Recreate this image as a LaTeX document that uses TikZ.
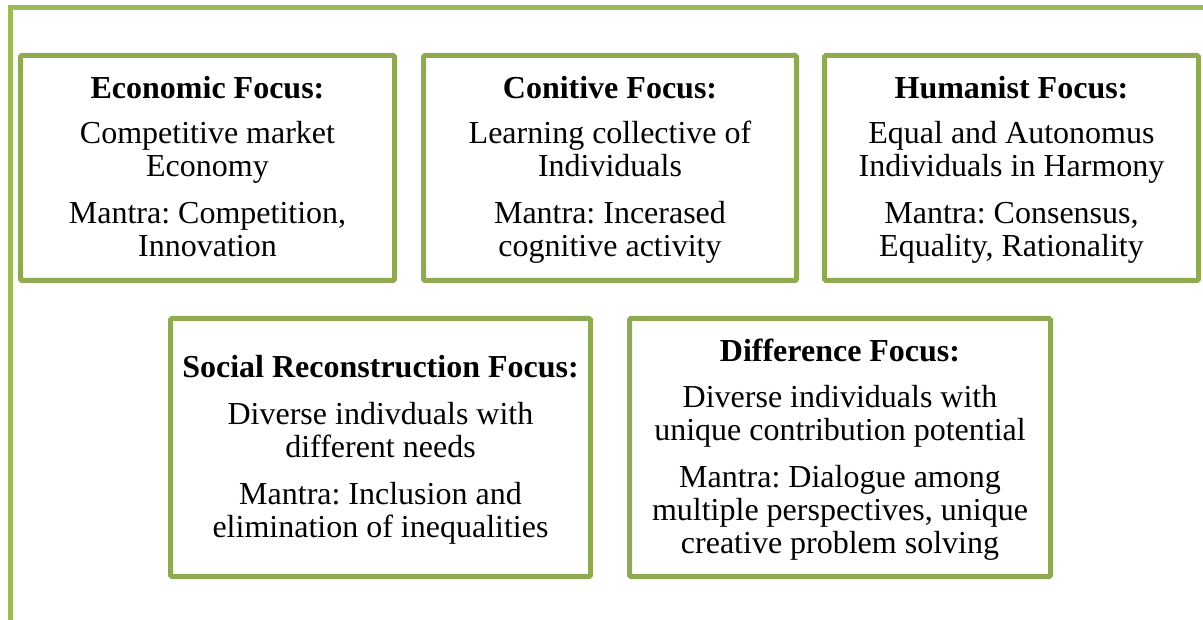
\documentclass[tikz,border=0pt]{standalone}
\usepackage{fontspec}
\setmainfont{Liberation Serif}
\frenchspacing
\definecolor{framegreen}{HTML}{9BBB59}
\definecolor{boxgreen}{HTML}{8FAA53}
\newcommand{\topstrut}{\rule{0pt}{29.5pt}}
\begin{document}
\begin{tikzpicture}[x=1pt,y=-1pt,
  box/.style={draw=boxgreen, line width=5pt, fill=white, rounded corners=1.5pt,
    align=center, inner sep=0pt, font=\fontsize{32}{33}\selectfont},
  frameline/.style={draw=framegreen, line width=5pt}]
\useasboundingbox (0,0) rectangle (1203,620);
\clip (0,0) rectangle (1203,620);
\draw[frameline] (1210,7.5) -- (10.5,7.5) -- (10.5,630);
\node[box, minimum width=374pt, minimum height=225pt] (b1) at (207.5,168)
  {\topstrut\textbf{Economic Focus:}\\[12pt] Competitive market\\ Economy\\[14pt] Mantra: Competition,\\ Innovation\strut};
\node[box, minimum width=373pt, minimum height=225pt] (b2) at (610,168)
  {\topstrut\textbf{Conitive Focus:}\\[12pt] Learning collective of\\ Individuals\\[14pt] Mantra: Incerased\\ cognitive activity\strut};
\node[box, minimum width=374pt, minimum height=225pt] (b3) at (1011.5,168)
  {\topstrut\textbf{Humanist Focus:}\\[12pt] Equal and Autonomus\\ Individuals in Harmony\\[14pt] Mantra: Consensus,\\ Equality, Rationality\strut};
\node[box, minimum width=420pt, minimum height=258pt] (b4) at (380.5,447.5)
  {\topstrut\textbf{Social Reconstruction Focus:}\\[14pt] Diverse indivduals with\\ different needs\\[14pt] Mantra: Inclusion and\\ elimination of inequalities\strut};
\node[box, minimum width=421pt, minimum height=258pt] (b5) at (840,447.5)
  {\topstrut\textbf{Difference Focus:}\\[13pt] Diverse individuals with\\ unique contribution potential\\[14pt] Mantra: Dialogue among\\ multiple perspectives, unique\\ creative problem solving\strut};
\end{tikzpicture}
\end{document}
